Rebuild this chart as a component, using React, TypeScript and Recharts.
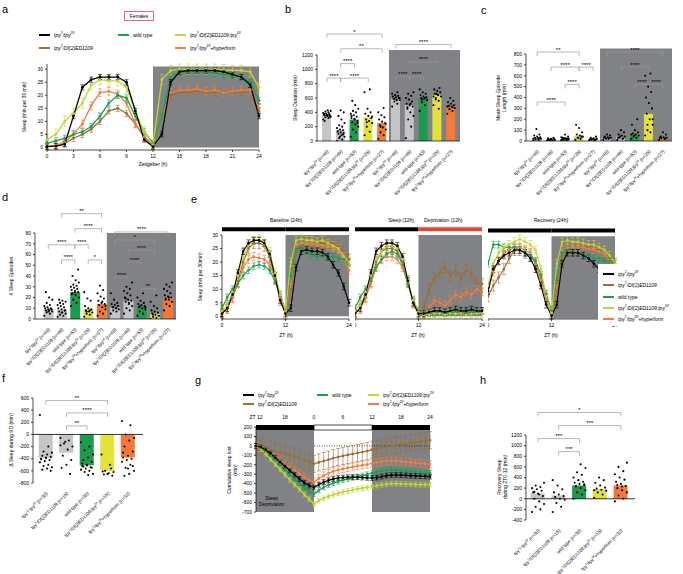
import React from 'react'
import {
  ComposedChart,
  LineChart,
  Line,
  Bar,
  Cell,
  Scatter,
  XAxis,
  YAxis,
  ReferenceArea,
  ReferenceLine,
  ErrorBar,
} from 'recharts'

const FONT = '"Liberation Sans", Arial, Helvetica, sans-serif'
const BG_GRAY = '#808285'
const BRACKET = '#9a9a9a'
const LINE_COLORS = ['#000000', '#a06d33', '#17a052', '#c2d531', '#f47c3c']
const BAR_FILLS = ['#c3c5c7', '#c3c5c7', '#1c9b4f', '#e2e23b', '#f27a36']
const LINE_ORDER = [1, 4, 2, 3, 0]

const GENOTYPES = [
  'tpy^1/tpy^Df',
  'tpy^1/Df(2)ED1109',
  'wild type',
  'tpy^1/Df(2)ED1109;tpy^Df',
  'tpy^1/tpy^Df+hyperforin',
]

// ---------- a: sleep profile, hourly ----------
const HOURS = [0, 1, 2, 3, 4, 5, 6, 7, 8, 9, 10, 11, 12, 13, 14, 15, 16, 17, 18, 19, 20, 21, 22, 23, 24]
const A_TICKS = [0, 3, 6, 9, 12, 15, 18, 21, 24]
const A_BLACK = [0.3, 0.5, 1.2, 12, 23, 26, 27, 27, 27, 25, 14, 3, 0.3, 5, 25, 29, 29.5, 29.5, 29.5, 29.5, 29, 28, 27, 24, 12]
const A_BROWN = [0.3, 0.5, 1.5, 3.5, 5, 7, 10, 14, 15, 13, 9, 4, 1, 12, 20, 21, 21, 21.5, 21, 21, 21.5, 21, 21, 22, 14]
const A_GREEN = [1.5, 2.5, 3.5, 5, 6, 8, 12, 17, 20, 19, 12, 6, 1.5, 12, 27, 29, 29, 29, 29, 28.5, 28, 27.5, 27, 25, 18]
const A_YELLOW = [3, 5, 10, 13, 17, 24, 26, 25.5, 25.5, 23, 14, 6, 1, 26, 29.5, 30, 30, 30, 30, 30, 29.8, 29.5, 29.5, 29, 23]
const A_ORANGE = [0.5, 0.8, 2, 5, 9, 16, 21, 21.5, 20.5, 17, 9, 4, 1, 12, 21, 22, 22, 22.5, 21.5, 22, 21, 21.5, 22, 22, 15]
const A_ERR = [1, 1.2, 1.2, 2, 1.5]

// ---------- b: sleep duration ----------
const B_MEANS = [360, 150, 300, 330, 250, 590, 500, 600, 640, 490]
const B_DOTS = [
  [300, 320, 330, 340, 350, 355, 360, 365, 370, 375, 380, 390, 400, 410, 420, 430, 280, 340, 360, 380],
  [0, 20, 40, 60, 80, 100, 110, 120, 130, 150, 160, 180, 200, 220, 250, 300, 350, 400, 430, 140, 90, 60],
  [60, 120, 160, 200, 230, 260, 280, 300, 320, 340, 360, 380, 400, 420, 450, 500, 560, 250, 310, 350],
  [80, 130, 200, 250, 280, 300, 320, 350, 380, 400, 450, 680, 720, 260, 340],
  [30, 80, 120, 160, 190, 220, 250, 270, 300, 330, 360, 400, 460, 200, 240],
  [480, 520, 550, 570, 580, 590, 600, 610, 620, 630, 640, 660, 680, 590, 600, 570],
  [40, 200, 300, 350, 400, 450, 480, 500, 520, 550, 580, 600, 630, 660, 680, 520, 470],
  [420, 500, 540, 570, 590, 600, 610, 620, 640, 660, 680, 720, 600, 580],
  [500, 560, 600, 620, 640, 660, 680, 700, 720, 740, 660, 620, 450, 580],
  [380, 420, 440, 460, 480, 490, 500, 520, 540, 560, 600, 480, 470, 450],
]
const B_TICKS = [0, 200, 400, 600, 800, 1000, 1200]
const B_LABELS = [
  'tpy^1/tpy^Df (n=48)', 'tpy^1/Df(2)ED1109 (n=46)', 'wild type (n=53)', 'tpy^1/Df(2)ED1109;tpy^Df (n=25)', 'tpy^1/tpy^Df+hyperforin (n=27)',
  'tpy^1/tpy^Df (n=48)', 'tpy^1/Df(2)ED1109 (n=46)', 'wild type (n=53)', 'tpy^1/Df(2)ED1109;tpy^Df (n=25)', 'tpy^1/tpy^Df+hyperforin (n=27)',
]
const B_SIG = [
  { from: 0, to: 4, y: 1493, s: '*' },
  { from: 1, to: 4, y: 1287, s: '**' },
  { from: 1, to: 2, y: 1080, s: '****' },
  { from: 0, to: 1, y: 878, s: '****' },
  { from: 1, to: 3, y: 878, s: '****' },
  { from: 5, to: 9, y: 1347, s: '****' },
  { from: 6, to: 8, y: 1103, s: '****' },
  { from: 5, to: 6, y: 896, s: '****' },
  { from: 6, to: 7, y: 896, s: '****' },
]

// ---------- c: mean sleep episode length ----------
const C_MEANS = [30, 15, 20, 50, 20, 30, 40, 60, 250, 30]
const C_DOTS = [
  [5, 10, 15, 20, 25, 30, 35, 40, 50, 60, 110, 20, 25],
  [2, 5, 8, 10, 12, 15, 18, 20, 25, 30, 10, 8],
  [5, 10, 15, 20, 25, 30, 40, 60, 15, 20, 25, 35],
  [10, 20, 30, 40, 50, 60, 80, 120, 150, 40, 30],
  [5, 10, 15, 20, 25, 30, 40, 20, 15, 10],
  [10, 20, 25, 30, 35, 40, 50, 60, 30, 25, 20],
  [10, 20, 30, 40, 50, 60, 80, 100, 30, 25, 40],
  [20, 30, 40, 50, 60, 70, 80, 100, 150, 200, 50, 60],
  [50, 80, 100, 150, 200, 250, 300, 350, 400, 450, 500, 600, 620, 150, 200],
  [10, 20, 25, 30, 35, 40, 60, 80, 30, 20],
]
const C_TICKS = [0, 100, 200, 300, 400, 500, 600, 700, 800]
const C_SIG = [
  { from: 0, to: 3, y: 818, s: '**' },
  { from: 1, to: 3, y: 680, s: '****' },
  { from: 3, to: 4, y: 680, s: '****' },
  { from: 2, to: 3, y: 520, s: '****' },
  { from: 0, to: 2, y: 358, s: '****' },
  { from: 5, to: 9, y: 818, s: '****' },
  { from: 6, to: 8, y: 680, s: '****' },
  { from: 7, to: 8, y: 520, s: '****' },
  { from: 8, to: 9, y: 520, s: '****' },
]

// ---------- d: number of sleep episodes ----------
const D_MEANS = [9, 9, 25, 9, 14, 11, 17, 12, 5, 20]
const D_DOTS = [
  [3, 5, 6, 7, 8, 8, 9, 9, 10, 10, 11, 12, 13, 15, 18, 20, 25, 9, 7],
  [2, 3, 4, 5, 6, 7, 8, 9, 10, 11, 12, 13, 14, 15, 16, 17, 18, 8, 6],
  [12, 15, 18, 20, 22, 24, 25, 26, 27, 28, 29, 30, 31, 32, 34, 36, 40, 46, 25, 23],
  [2, 4, 5, 6, 7, 8, 9, 10, 12, 17, 19, 25, 8, 7],
  [3, 5, 7, 9, 11, 13, 14, 15, 17, 19, 21, 24, 27, 31, 12, 16],
  [5, 7, 8, 9, 10, 11, 12, 13, 14, 15, 18, 24, 10, 11],
  [5, 8, 10, 12, 14, 16, 17, 18, 20, 22, 24, 26, 28, 30, 34, 15, 19],
  [3, 5, 7, 9, 10, 11, 12, 13, 14, 15, 17, 20, 24, 12, 11],
  [0, 1, 2, 3, 4, 5, 6, 7, 8, 10, 12, 16, 22, 4, 3],
  [8, 12, 14, 16, 18, 19, 20, 21, 22, 24, 26, 28, 30, 32, 34, 20, 18],
]
const D_TICKS = [0, 10, 20, 30, 40, 50, 60, 70, 80]
const D_SIG = [
  { from: 1, to: 4, y: 98, s: '**' },
  { from: 2, to: 4, y: 84, s: '****' },
  { from: 0, to: 2, y: 69, s: '****' },
  { from: 2, to: 3, y: 69, s: '****' },
  { from: 1, to: 2, y: 55, s: '****' },
  { from: 3, to: 4, y: 55, s: '*' },
  { from: 5, to: 9, y: 81, s: '****' },
  { from: 5, to: 8, y: 73.5, s: '*' },
  { from: 6, to: 8, y: 64, s: '****' },
  { from: 6, to: 7, y: 53, s: '****' },
  { from: 5, to: 6, y: 39, s: '****' },
  { from: 7, to: 8, y: 28.5, s: '**' },
]

// ---------- e: baseline / sleep deprivation / recovery ----------
const E_BL = [
  [1, 3, 8, 16, 24, 27, 28, 28, 27, 23, 15, 6, 1, 3, 18, 24, 24.5, 24, 24, 23.5, 22, 19, 16, 11, 5],
  [1, 3, 7, 13, 20, 25, 27, 27, 26, 22, 14, 6, 1, 10, 24, 26, 27, 27, 27.5, 27, 27, 27, 26, 24, 21],
  [3, 7, 10, 12, 15, 17, 18.5, 19, 18.5, 17, 13, 8, 2, 15, 25, 25, 24, 23, 22, 23, 22, 22, 21.5, 21, 20],
  [2, 4, 9, 15, 22, 26, 28, 28.5, 27, 24, 16, 8, 2, 20, 28, 28.5, 28, 28, 27.5, 28, 27, 26, 25, 22, 20],
  [1, 3, 7, 12, 18, 21, 22, 21.5, 21, 19, 14, 7, 1.5, 12, 26, 27, 27, 27, 26.5, 26, 26, 25.5, 24, 21, 17],
]
const E_SD = [
  [1, 3, 8, 16, 24, 26, 27, 27, 26, 22, 13, 5, 1, 1, 1.5, 2, 2, 1.5, 2, 2.5, 2, 2, 2.5, 2, 2],
  [1, 3, 7, 13, 20, 24, 25, 25, 24, 20, 13, 5, 1, 3, 10, 14, 16, 18, 15, 17, 14, 17, 16, 12, 12],
  [3, 7, 10, 14, 18, 21, 23, 24, 23, 19, 12, 6, 2, 0.5, 1, 1, 1.5, 1, 1.5, 1.5, 2, 1.5, 2, 1.5, 2],
  [2, 4, 9, 15, 21, 24, 26, 26, 25, 21, 13, 6, 1.5, 0.5, 0.5, 1, 1, 0.5, 1, 1, 1, 0.5, 1, 1, 1],
  [1, 3, 7, 12, 18, 21, 22, 22, 21, 18, 12, 5, 1, 1, 3, 6, 5, 4, 6, 8, 7, 9, 8, 10, 9],
]
const E_RC = [
  [10, 18, 21, 23, 24, 25, 25, 24, 22, 18, 12, 5, 1, 5, 20, 24, 24, 24, 23, 22, 20, 18, 15, 10, 5],
  [8, 12, 15, 18, 22, 25, 25, 24, 23, 20, 14, 7, 2, 10, 22, 25, 26, 26, 26, 26, 25, 25, 24, 22, 20],
  [20, 27, 27, 26, 26, 26, 25, 24, 23, 21, 16, 9, 3, 14, 24, 25, 24, 24, 23, 23, 22, 22, 21, 21, 20],
  [12, 20, 24, 26, 27, 28, 29, 28, 27, 25, 18, 8, 2, 20, 28, 28.5, 28, 28, 27.5, 27, 27, 26, 25, 23, 20],
  [10, 17, 21, 24, 25, 26, 26, 25, 24, 20, 14, 7, 2, 12, 25, 26, 26, 26, 26, 25.5, 25, 24.5, 24, 21, 17],
]
const E_ERR = [1.2, 2, 1.2, 1.5, 1.5]
const E_TICKS = [0, 12, 24]
const E_YTICKS = [0, 5, 10, 15, 20, 25, 30]

// ---------- f: change in sleep during SD ----------
const F_MEANS = [-390, -300, -510, -600, -380]
const F_DOTS = [
  [320, -200, -280, -300, -330, -350, -370, -390, -400, -420, -440, -460, -500, -520, -540, -560, -580, -600, -380, -410],
  [-60, -100, -150, -200, -250, -350, -420, -500, -550, -650, -120, -180],
  [-130, -200, -260, -330, -380, -420, -450, -500, -520, -540, -560, -580, -600, -620, -650, -670, -530, -550, -510, -480],
  [-330, -500, -600, -620, -640, -660, -680, -650, -610, -560],
  [220, 150, 0, -60, -100, -200, -280, -350, -380, -400, -420, -450, -500, -550, -600, -650, -680, -520, -560, -300],
]
const F_TICKS = [-800, -600, -400, -200, 0, 200, 400, 600]
const F_LABELS = [
  'tpy^1/ tpy^Df (n=30)', 'tpy^1/Df(2)ED1109 (n=15)', 'wild type (n=38)', 'tpy^1/Df(2)ED1109;tpy^Df (n=15)', 'tpy^1/tpy^Df+hyperforin (n=32)',
]
const F_SIG = [
  { from: 0, to: 3, y: 557, s: '**' },
  { from: 1, to: 3, y: 354, s: '****' },
  { from: 1, to: 2, y: 140, s: '**' },
]

// ---------- g: cumulative sleep lost ----------
const G_HOURS = [0, 1, 2, 3, 4, 5, 6, 7, 8, 9, 10, 11, 12, 13, 14, 15, 16, 17, 18, 19, 20, 21, 22, 23, 24, 25, 26, 27, 28, 29, 30, 31, 32, 33, 34, 35, 36]
const G_TICKS = [0, 6, 12, 18, 24, 30, 36]
const G_TICK_LABELS = ['ZT 12', '18', '0', '6', '12', '18', '24']
const G_BLACK = [0, -15, -40, -80, -125, -170, -215, -260, -305, -350, -390, -420, -440, -410, -385, -365, -350, -340, -335, -332, -330, -332, -335, -338, -340, -335, -325, -315, -310, -308, -310, -312, -315, -318, -320, -322, -325]
const G_BROWN = [0, -10, -25, -40, -55, -70, -85, -100, -115, -130, -150, -170, -190, -175, -160, -145, -130, -118, -106, -95, -85, -75, -65, -55, -40, -30, -20, -10, 0, 8, 15, 22, 30, 38, 45, 52, 60]
const G_GREEN = [0, -20, -55, -100, -150, -200, -250, -300, -350, -395, -440, -480, -510, -470, -440, -415, -395, -378, -362, -350, -338, -326, -314, -300, -288, -276, -265, -258, -255, -258, -262, -266, -270, -274, -278, -282, -286]
const G_YELLOW = [0, -35, -85, -140, -195, -250, -305, -360, -410, -460, -515, -565, -615, -580, -555, -535, -518, -503, -490, -478, -467, -457, -448, -440, -430, -420, -412, -405, -400, -400, -402, -404, -406, -408, -410, -410, -410]
const G_ORANGE = [0, -20, -50, -85, -120, -155, -190, -225, -260, -295, -330, -360, -385, -345, -315, -290, -270, -255, -243, -232, -222, -213, -205, -197, -185, -175, -165, -160, -158, -160, -165, -170, -175, -180, -185, -190, -195]
const G_ERR = [25, 90, 25, 25, 40]
const G_YTICKS = [-700, -600, -500, -400, -300, -200, -100, 0, 100, 200]

// ---------- h: recovery sleep ----------
const H_MEANS = [100, 60, 250, 180, 250]
const H_DOTS = [
  [-250, -200, -150, -100, -50, 0, 50, 100, 120, 150, 180, 200, 220, 250, 300, 80, 130],
  [-250, -150, -80, -20, 0, 30, 50, 80, 120, 180, 250, 350],
  [0, 80, 120, 160, 200, 240, 260, 280, 300, 320, 350, 400, 450, 500, 580, 650, 230, 270],
  [20, 80, 120, 150, 170, 190, 210, 250, 300, 350, 400, 160],
  [-50, 0, 60, 120, 160, 200, 240, 280, 320, 360, 400, 460, 520, 600, 680, 230, 260],
]
const H_TICKS = [-400, -200, 0, 200, 400, 600, 800, 1000, 1200]
const H_SIG = [
  { from: 0, to: 4, y: 1623, s: '*' },
  { from: 1, to: 4, y: 1377, s: '***' },
  { from: 0, to: 2, y: 1132, s: '***' },
  { from: 1, to: 2, y: 887, s: '***' },
]

type Sig = { from: number; to: number; y: number; s: string }

const TICK = { fontSize: 5, fill: '#000', fontFamily: FONT }
const AXIS = { stroke: '#000', strokeWidth: 0.7 }

function richParts(text: string) {
  return text.split(/\^([A-Za-z0-9]+)/)
}

function SvgRich({ text, size }: { text: string; size: number }) {
  const parts = richParts(text)
  let up = false
  const out: React.ReactNode[] = []
  parts.forEach((p, i) => {
    if (!p) return
    if (i % 2 === 1) {
      out.push(<tspan key={i} dy={up ? 0 : -size * 0.38} fontSize={size * 0.7}>{p}</tspan>)
      up = true
    } else {
      out.push(<tspan key={i} dy={up ? size * 0.38 : 0} fontSize={size}>{p}</tspan>)
      up = false
    }
  })
  return <>{out}</>
}

function HtmlRich({ text }: { text: string }) {
  const parts = richParts(text)
  return (
    <>
      {parts.map((p, i) =>
        i % 2 === 1 ? (
          <sup key={i} style={{ fontSize: '70%', lineHeight: 0 }}>{p}</sup>
        ) : (
          <span key={i}>{p}</span>
        )
      )}
    </>
  )
}

const rotTick = (labels: string[]) => (props: any) => {
  const { x, y, payload } = props
  const lab = labels[payload.value]
  if (lab == null) return <g />
  return (
    <g transform={`translate(${x + 2},${y + 3})`}>
      <text transform="rotate(-45)" textAnchor="end" fill="#000" fontFamily={FONT}>
        <SvgRich text={lab} size={4.6} />
      </text>
    </g>
  )
}

const dotShape = (spread: number) => (props: any) => {
  const { cx, cy, payload } = props
  if (cx == null || cy == null) return <g />
  const k = payload?.k ?? 0
  const dx = (((k * 7) % 11) - 5) * spread
  return <circle cx={cx + dx} cy={cy} r={1.05} fill="#000" />
}

function brackets(sig: Sig[], tick: number) {
  return sig.flatMap((s, i) => [
    <ReferenceLine
      key={`h${i}`}
      segment={[{ x: s.from, y: s.y }, { x: s.to, y: s.y }]}
      stroke={BRACKET}
      strokeWidth={0.7}
      ifOverflow="visible"
      label={{ value: s.s, position: 'top', fontSize: 6, fill: '#000', offset: 0.5, fontFamily: FONT }}
    />,
    <ReferenceLine
      key={`l${i}`}
      segment={[{ x: s.from, y: s.y }, { x: s.from, y: s.y - tick }]}
      stroke={BRACKET}
      strokeWidth={0.7}
      ifOverflow="visible"
    />,
    <ReferenceLine
      key={`r${i}`}
      segment={[{ x: s.to, y: s.y }, { x: s.to, y: s.y - tick }]}
      stroke={BRACKET}
      strokeWidth={0.7}
      ifOverflow="visible"
    />,
  ])
}

type BarPanelProps = {
  w: number
  h: number
  margin: { top: number; right: number; bottom: number; left: number }
  yw: number
  xDomain: [number, number]
  yDomain: [number, number]
  yTicks: number[]
  means: number[]
  dots: number[][]
  sig: Sig[]
  tick: number
  labels: string[]
  barSize: number
  spread: number
  gray?: [number, number, number]
  zero?: boolean
}

function BarPanel(p: BarPanelProps) {
  const data = p.means.map((v, i) => ({ x: i, v }))
  const pts = p.dots.flatMap((arr, i) => arr.map((y, k) => ({ x: i, y, k })))
  const idx = p.means.map((_, i) => i)
  return (
    <ComposedChart width={p.w} height={p.h} data={data} margin={p.margin}>
      {p.gray && (
        <ReferenceArea
          x1={p.gray[0]}
          x2={p.gray[1]}
          y1={p.yDomain[0]}
          y2={p.gray[2]}
          fill={BG_GRAY}
          fillOpacity={1}
          stroke="none"
          ifOverflow="visible"
        />
      )}
      <XAxis
        type="number"
        dataKey="x"
        domain={p.xDomain}
        ticks={idx}
        allowDataOverflow
        interval={0}
        tick={rotTick(p.labels)}
        tickLine={false}
        axisLine={p.zero ? false : AXIS}
        height={40}
      />
      <YAxis
        type="number"
        domain={p.yDomain}
        ticks={p.yTicks}
        allowDataOverflow
        interval={0}
        width={p.yw}
        tick={TICK}
        tickSize={2}
        axisLine={AXIS}
        tickLine={AXIS}
      />
      {p.zero && <ReferenceLine y={0} stroke="#000" strokeWidth={0.8} />}
      <Bar dataKey="v" barSize={p.barSize} isAnimationActive={false}>
        {data.map((_, i) => (
          <Cell key={i} fill={BAR_FILLS[i % 5]} />
        ))}
      </Bar>
      <Scatter data={pts} dataKey="y" isAnimationActive={false} shape={dotShape(p.spread)} />
      {brackets(p.sig, p.tick)}
    </ComposedChart>
  )
}

function Pos({ x, y, children }: { x: number; y: number; children: React.ReactNode }) {
  return <div style={{ position: 'absolute', left: x, top: y }}>{children}</div>
}

function Txt({ x, y, size = 5, children, anchor = 'center', rotate = false, bold = false }: any) {
  const tx = anchor === 'center' ? '-50%' : anchor === 'end' ? '-100%' : '0'
  return (
    <div
      style={{
        position: 'absolute',
        left: x,
        top: y,
        transform: `translate(${tx},-50%)${rotate ? ' rotate(-90deg)' : ''}`,
        transformOrigin: rotate ? '50% 50%' : undefined,
        fontSize: size,
        lineHeight: 1.15,
        whiteSpace: 'pre',
        textAlign: 'center',
        fontWeight: bold ? 700 : 400,
        color: '#000',
      }}
    >
      {children}
    </div>
  )
}

function LegendItem({ x, y, i }: { x: number; y: number; i: number }) {
  return (
    <div
      style={{
        position: 'absolute',
        left: x,
        top: y - 4,
        height: 8,
        display: 'flex',
        alignItems: 'center',
        fontSize: 5,
        whiteSpace: 'nowrap',
      }}
    >
      <div style={{ width: 11, height: 2.2, background: LINE_COLORS[i], marginRight: 4 }} />
      <span style={{ fontStyle: i === 2 ? 'normal' : 'italic' }}>
        <HtmlRich text={GENOTYPES[i]} />
      </span>
    </div>
  )
}

function rows(xs: number[], series: number[][], errs: number[]) {
  return xs.map((t, j) => {
    const r: Record<string, number> = { t }
    series.forEach((s, i) => {
      r[`s${i}`] = s[j]
      r[`e${i}`] = errs[i]
    })
    return r
  })
}

function seriesLines(width = 1.2) {
  return LINE_ORDER.map((i) => (
    <Line
      key={i}
      type="linear"
      dataKey={`s${i}`}
      stroke={LINE_COLORS[i]}
      strokeWidth={width}
      dot={{ r: 0.8, fill: LINE_COLORS[i], stroke: LINE_COLORS[i] }}
      isAnimationActive={false}
    >
      <ErrorBar dataKey={`e${i}`} width={2} stroke={LINE_COLORS[i]} strokeWidth={0.6} />
    </Line>
  ))
}

function EPanel({ x, series, showY, night }: { x: number; series: number[][]; showY: boolean; night: 'black' | 'red' }) {
  const data = rows(HOURS, series, E_ERR)
  return (
    <Pos x={x} y={215}>
      <LineChart width={showY ? 163 : 131} height={130} data={data} margin={{ top: 20, right: 4, bottom: 12, left: 0 }}>
        <ReferenceArea x1={12} x2={24} y1={0} y2={30} fill={BG_GRAY} fillOpacity={1} stroke="none" ifOverflow="visible" />
        <ReferenceArea x1={0} x2={12} y1={31.4} y2={32.9} fill="#000" fillOpacity={1} stroke="none" ifOverflow="visible" />
        <ReferenceArea
          x1={12}
          x2={24}
          y1={31.4}
          y2={32.9}
          fill={night === 'red' ? '#ea4335' : '#000'}
          fillOpacity={1}
          stroke="none"
          ifOverflow="visible"
        />
        <XAxis type="number" dataKey="t" domain={[0, 24]} ticks={E_TICKS} interval={0} tick={TICK} tickSize={2} axisLine={AXIS} tickLine={AXIS} height={14} />
        {showY ? (
          <YAxis domain={[0, 30]} ticks={E_YTICKS} interval={0} width={32} tick={TICK} tickSize={2} axisLine={AXIS} tickLine={AXIS} />
        ) : (
          <YAxis hide domain={[0, 30]} />
        )}
        {seriesLines(1.1)}
      </LineChart>
    </Pos>
  )
}

export default function App() {
  const aData = rows(HOURS, [A_BLACK, A_BROWN, A_GREEN, A_YELLOW, A_ORANGE], A_ERR)
  const gData = rows(G_HOURS, [G_BLACK, G_BROWN, G_GREEN, G_YELLOW, G_ORANGE], G_ERR)

  return (
    <div style={{ position: 'absolute', left: 0, top: 0, width: 683, height: 574, background: '#fff', fontFamily: FONT, overflow: 'hidden' }}>
      {/* panel letters */}
      <Txt x={2} y={9} size={11} anchor="start">a</Txt>
      <Txt x={285} y={9} size={11} anchor="start">b</Txt>
      <Txt x={481} y={10} size={11} anchor="start">c</Txt>
      <Txt x={2} y={197} size={11} anchor="start">d</Txt>
      <Txt x={191} y={199} size={11} anchor="start">e</Txt>
      <Txt x={2} y={378} size={11} anchor="start">f</Txt>
      <Txt x={195} y={380} size={11} anchor="start">g</Txt>
      <Txt x={480} y={380} size={11} anchor="start">h</Txt>

      {/* a */}
      <div style={{ position: 'absolute', left: 124, top: 11, width: 30, height: 10, border: '1px solid #e85aa8', boxSizing: 'border-box', fontSize: 4.8, display: 'flex', alignItems: 'center', justifyContent: 'center' }}>
        Females
      </div>
      <LegendItem x={39} y={35} i={0} />
      <LegendItem x={39} y={48} i={1} />
      <LegendItem x={118} y={35} i={2} />
      <LegendItem x={175} y={35} i={3} />
      <LegendItem x={175} y={48} i={4} />
      <Pos x={0} y={40}>
        <LineChart width={265} height={140} data={aData} margin={{ top: 24, right: 6, bottom: 16, left: 0 }}>
          <ReferenceArea x1={12} x2={24} y1={0} y2={31} fill={BG_GRAY} fillOpacity={1} stroke="none" ifOverflow="visible" />
          <XAxis type="number" dataKey="t" domain={[0, 24]} ticks={A_TICKS} interval={0} tick={TICK} tickSize={2} axisLine={AXIS} tickLine={AXIS} height={14} />
          <YAxis domain={[0, 30]} ticks={[0, 5, 10, 15, 20, 25, 30]} interval={0} width={47} tick={TICK} tickSize={2} axisLine={AXIS} tickLine={AXIS} />
          {seriesLines(1.3)}
        </LineChart>
      </Pos>
      <Txt x={25} y={107} rotate>Sleep (min per 30 min)</Txt>
      <Txt x={153} y={165}>Zeitgeber (h)</Txt>

      {/* b */}
      <Pos x={290} y={0}>
        <BarPanel
          w={175} h={200} margin={{ top: 55, right: 5, bottom: 19, left: 0 }} yw={27}
          xDomain={[-0.72, 9.65]} yDomain={[0, 1200]} yTicks={B_TICKS}
          means={B_MEANS} dots={B_DOTS} sig={B_SIG} tick={55} labels={B_LABELS}
          barSize={9} spread={0.75} gray={[4.5, 9.65, 1270]}
        />
      </Pos>
      <Txt x={296} y={98} rotate>Sleep Duration (min)</Txt>

      {/* c */}
      <Pos x={495} y={0}>
        <BarPanel
          w={188} h={200} margin={{ top: 54, right: 11, bottom: 19, left: 0 }} yw={31}
          xDomain={[-0.8, 9.65]} yDomain={[0, 800]} yTicks={C_TICKS}
          means={C_MEANS} dots={C_DOTS} sig={C_SIG} tick={37} labels={B_LABELS}
          barSize={9} spread={0.75} gray={[4.5, 9.65, 850]}
        />
      </Pos>
      <Txt x={502} y={98} rotate>{'Mean Sleep Episode\nLength (min)'}</Txt>

      {/* d */}
      <Pos x={0} y={180}>
        <BarPanel
          w={180} h={205} margin={{ top: 53, right: 4, bottom: 26, left: 0 }} yw={35}
          xDomain={[-1, 9.6]} yDomain={[0, 80]} yTicks={D_TICKS}
          means={D_MEANS} dots={D_DOTS} sig={D_SIG} tick={3.7} labels={B_LABELS}
          barSize={10} spread={0.8} gray={[4.4, 9.6, 80]}
        />
      </Pos>
      <Txt x={12} y={276} rotate># Sleep Episodes</Txt>

      {/* e */}
      <Txt x={286} y={221}>Baseline (24h)</Txt>
      <Txt x={414} y={221} anchor="end">Sleep (12h)</Txt>
      <Txt x={424} y={221} anchor="start">Deprivation (12h)</Txt>
      <Txt x={551} y={221}>Recovery (24h)</Txt>
      <EPanel x={190} series={E_BL} showY night="black" />
      <EPanel x={355} series={E_SD} showY={false} night="red" />
      <EPanel x={488} series={E_RC} showY={false} night="black" />
      <Txt x={201} y={277} rotate>Sleep (min per 30min)</Txt>
      <Txt x={286} y={336}>ZT (h)</Txt>
      <Txt x={418} y={336}>ZT (h)</Txt>
      <Txt x={551} y={336}>ZT (h)</Txt>
      <div style={{ position: 'absolute', left: 598, top: 264, width: 85, height: 62, background: '#fff' }} />
      {[0, 1, 2, 3, 4].map((i) => (
        <LegendItem key={i} x={603} y={274 + i * 11.3} i={i} />
      ))}

      {/* f */}
      <Pos x={0} y={370}>
        <BarPanel
          w={150} h={185} margin={{ top: 28, right: 7, bottom: 32, left: 0 }} yw={33}
          xDomain={[-0.63, 4.73]} yDomain={[-800, 600]} yTicks={F_TICKS}
          means={F_MEANS} dots={F_DOTS} sig={F_SIG} tick={66} labels={F_LABELS}
          barSize={14} spread={1.2} zero
        />
      </Pos>
      <Txt x={12} y={440} rotate>Δ Sleep during SD (min)</Txt>

      {/* g */}
      <LegendItem x={243} y={395} i={0} />
      <LegendItem x={243} y={404} i={1} />
      <LegendItem x={317} y={395} i={2} />
      <LegendItem x={368} y={395} i={3} />
      <LegendItem x={368} y={404} i={4} />
      <Pos x={200} y={380}>
        <LineChart width={240} height={150} data={gData} margin={{ top: 35, right: 10, bottom: 18, left: 0 }}>
          <ReferenceArea x1={0} x2={12} y1={-700} y2={168} fill={BG_GRAY} fillOpacity={1} stroke="none" ifOverflow="visible" />
          <ReferenceArea x1={24} x2={36} y1={-700} y2={168} fill={BG_GRAY} fillOpacity={1} stroke="none" ifOverflow="visible" />
          <ReferenceArea x1={0} x2={12} y1={168} y2={221} fill="#000" fillOpacity={1} stroke="none" ifOverflow="visible" />
          <ReferenceArea x1={12} x2={24} y1={168} y2={221} fill="#fff" fillOpacity={1} stroke="#000" strokeWidth={0.7} ifOverflow="visible" />
          <ReferenceArea x1={24} x2={36} y1={168} y2={221} fill="#000" fillOpacity={1} stroke="none" ifOverflow="visible" />
          <XAxis
            type="number"
            dataKey="t"
            orientation="top"
            domain={[0, 36]}
            ticks={G_TICKS}
            interval={0}
            tickFormatter={(v: number) => G_TICK_LABELS[G_TICKS.indexOf(v)]}
            tick={TICK}
            tickSize={6}
            axisLine={false}
            tickLine={false}
            height={12}
          />
          <YAxis domain={[-700, 200]} ticks={G_YTICKS} interval={0} width={56} tick={TICK} tickSize={2} axisLine={AXIS} tickLine={AXIS} />
          <ReferenceLine segment={[{ x: 12, y: 0 }, { x: 36, y: 0 }]} stroke="#000" strokeWidth={0.7} strokeDasharray="1 1.5" ifOverflow="visible" />
          {seriesLines(1.2)}
        </LineChart>
      </Pos>
      <Txt x={233} y={470} rotate>{'Cumulative sleep lost\n(min)'}</Txt>
      <Txt x={259} y={502} anchor="start">{'Sleep\nDeprivation'}</Txt>

      {/* h */}
      <Pos x={495} y={370}>
        <BarPanel
          w={188} h={204} margin={{ top: 65, right: 48, bottom: 14, left: 0 }} yw={31}
          xDomain={[-0.58, 4.68]} yDomain={[-400, 1200]} yTicks={H_TICKS}
          means={H_MEANS} dots={H_DOTS} sig={H_SIG} tick={75} labels={F_LABELS}
          barSize={14} spread={1.2} zero
        />
      </Pos>
      <Txt x={503} y={477} rotate>{'Recovery Sleep\nduring ZT0-12 (min)'}</Txt>
    </div>
  )
}
